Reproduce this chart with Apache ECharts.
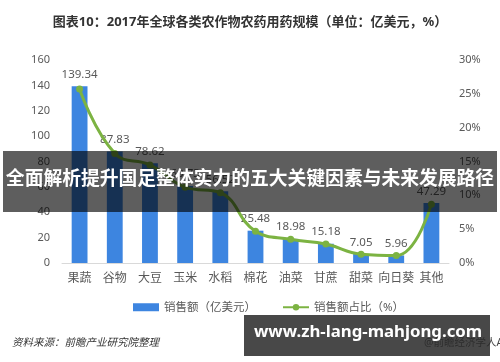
<!DOCTYPE html>
<html><head><meta charset="utf-8">
<script src="https://cdn.jsdelivr.net/npm/echarts@6/dist/echarts.min.js"></script>
<style>html,body{margin:0;padding:0;background:#fff}#c{width:500px;height:362px}</style>
</head><body><div id="c"></div>
<script>
var categories = ['果蔬','谷物','大豆','玉米','水稻','棉花','油菜','甘蔗','甜菜','向日葵','其他'];
var salesValues = [139.34, 87.83, 78.62, 60.73, 56.52, 25.48, 18.98, 15.18, 7.05, 5.96, 47.29];
var shareValues = [25.7, 16.2, 14.5, 11.2, 10.4, 4.7, 3.5, 2.8, 1.3, 1.1, 8.7];
var leftTicks = [0, 20, 40, 60, 80, 100, 120, 140, 160];
var rightTicks = [0, 5, 10, 15, 20, 25, 30];

var FONT = '"Noto Sans", "Noto Sans CJK SC", sans-serif';
var chart = echarts.init(document.getElementById('c'), null, {renderer: 'canvas'});
chart.setOption({
  animation: false,
  backgroundColor: '#fff',
  textStyle: {fontFamily: FONT},
  title: {
    text: '图表10：2017年全球各类农作物农药用药规模（单位：亿美元，%）',
    left: 'center', top: 11,
    textStyle: {fontSize: 13, fontWeight: 'bold', color: '#333', fontFamily: FONT}
  },
  legend: {
    bottom: 44, left: 128, itemGap: 26,
    itemWidth: 26, itemHeight: 8,
    textStyle: {fontSize: 11.5, color: '#595959', fontFamily: FONT},
    data: [
      {name: '销售额（亿美元）', icon: 'rect'},
      {name: '销售额占比（%）'}
    ]
  },
  grid: {left: 62, right: 51, top: 60, bottom: 99},
  xAxis: {
    type: 'category', data: categories,
    axisLine: {lineStyle: {color: '#d9d9d9'}},
    axisTick: {show: false},
    axisLabel: {color: '#595959', fontSize: 12, margin: 10, interval: 0}
  },
  yAxis: [
    {type: 'value', min: leftTicks[0], max: leftTicks[leftTicks.length-1], interval: 20,
     splitLine: {show: false}, axisLine: {show: false}, axisTick: {show: false},
     axisLabel: {color: '#595959', fontSize: 11, margin: 12}},
    {type: 'value', min: rightTicks[0], max: rightTicks[rightTicks.length-1], interval: 5,
     splitLine: {show: false}, axisLine: {show: false}, axisTick: {show: false},
     axisLabel: {color: '#595959', fontSize: 11, margin: 10, formatter: '{value}%'}}
  ],
  series: [
    {name: '销售额（亿美元）', type: 'bar', data: salesValues, barWidth: '45%',
     itemStyle: {color: '#3d85e0'},
     label: {show: true, position: 'top', color: '#595959', fontSize: 11.5, distance: 6,
             formatter: function(p){return p.value.toFixed(2);}}},
    {name: '销售额占比（%）', type: 'line', yAxisIndex: 1, data: shareValues, smooth: 0.45,
     symbol: 'circle', symbolSize: 7,
     lineStyle: {color: '#7cb342', width: 3},
     itemStyle: {color: '#7cb342'}}
  ],
  graphic: [
    {type: 'text', left: 12, top: 338, z: 50,
     style: {text: '资料来源：前瞻产业研究院整理', fill: '#333', font: 'italic 10.5px ' + FONT}},
    {type: 'text', left: 424, top: 338, z: 50,
     style: {text: '@前瞻经济学人APP', fill: '#444', font: '10.5px ' + FONT}},
    {type: 'rect', left: 3, top: 151, z: 100,
     shape: {width: 494, height: 61},
     style: {fill: 'rgba(0,0,0,0.63)'}},
    {type: 'text', left: 'center', top: 170, z: 101,
     style: {text: '全面解析提升国足整体实力的五大关键因素与未来发展路径', fill: '#fff',
             font: 'bold 18.8px ' + FONT}},
    {type: 'rect', left: 244, top: 315, z: 100,
     shape: {width: 246, height: 41},
     style: {fill: 'rgba(40,40,40,0.85)'}},
    {type: 'text', left: 254, top: 324, z: 101,
     style: {text: 'www.zh-lang-mahjong.com', fill: '#fff', font: 'bold 16.8px ' + FONT}}
  ]
});
</script></body></html>
